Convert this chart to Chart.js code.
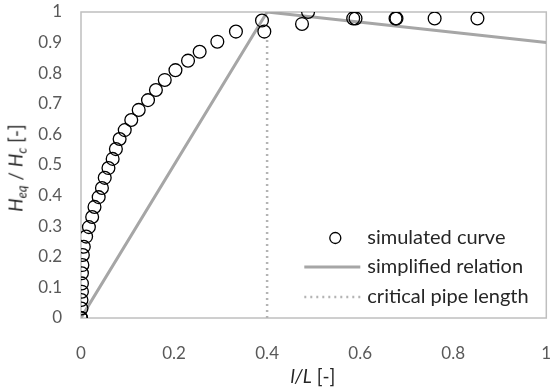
<!DOCTYPE html>
<html>
<head>
<meta charset="utf-8">
<script src="https://cdn.jsdelivr.net/npm/chart.js@4/dist/chart.umd.min.js"></script>
<style>
    html, body { margin: 0; padding: 0; background: #fff; overflow: hidden; }
    #wrap { position: relative; width: 554px; height: 388px; }
    .axis-title {
        position: absolute;
        font-family: Lato, sans-serif;
        font-size: 19px;
        color: #262626;
        white-space: nowrap;
        line-height: 1;
    }
    .axis-title sub { font-size: 13px; vertical-align: -4px; }
    #ytitle { left: 17px; top: 168px; transform: translate(-50%, -50%) rotate(-90deg); }
    #xtitle { left: 313px; top: 375px; transform: translate(-50%, -50%); }
</style>
</head>
<body>
<div id="wrap">
    <canvas id="chart" width="554" height="388"></canvas>
    <div id="ytitle" class="axis-title"><i>H</i><sub><i>eq</i></sub> / <i>H</i><sub><i>c</i></sub> [-]</div>
    <div id="xtitle" class="axis-title"><i>l/L</i> [-]</div>
</div>
<script>
// Curva simulada
const simX = [0, 0, 0, 0.001, 0.001, 0.002, 0.002, 0.002, 0.003, 0.004, 0.006, 0.011, 0.017, 0.024,
    0.029, 0.038, 0.045, 0.051, 0.059, 0.068, 0.075, 0.083, 0.094, 0.108, 0.124, 0.144, 0.161,
    0.180, 0.203, 0.230, 0.255, 0.293, 0.333, 0.389, 0.394, 0.475, 0.488, 0.585, 0.590, 0.676,
    0.678, 0.760, 0.852];
const simY = [0, 0, 0, 0.031, 0.059, 0.086, 0.113, 0.146, 0.173, 0.206, 0.233, 0.266, 0.297, 0.330,
    0.363, 0.395, 0.425, 0.458, 0.490, 0.520, 0.552, 0.585, 0.614, 0.647, 0.680, 0.712, 0.745,
    0.778, 0.810, 0.841, 0.870, 0.903, 0.936, 0.972, 0.936, 0.961, 1.0, 0.979, 0.979, 0.979,
    0.979, 0.979, 0.979];

// Relación simplificada
const relX = [0, 0.4, 1];
const relY = [0, 1, 0.9];

// Longitud crítica de tubería
const critX = [0.4, 0.4];
const critY = [0, 0.92];

// Marcas de los ejes
const xTicks = [0, 0.2, 0.4, 0.6, 0.8, 1];
const yTicks = [0, 0.1, 0.2, 0.3, 0.4, 0.5, 0.6, 0.7, 0.8, 0.9, 1];

const seriesNames = ['simulated curve', 'simplified relation', 'critical pipe length'];

const toPoints = (xs, ys) => xs.map((x, i) => ({ x: x, y: ys[i] }));

// Marco del área del gráfico y leyenda interior
const framePlugin = {
    id: 'frame',
    beforeDatasetsDraw(chart) {
        const { ctx, chartArea: a } = chart;
        ctx.save();
        ctx.strokeStyle = '#bfbfbf';
        ctx.lineWidth = 1.5;
        ctx.strokeRect(a.left, a.top, a.right - a.left, a.bottom - a.top);
        ctx.restore();
    },
    afterDraw(chart) {
        const { ctx, chartArea: a } = chart;
        const textX = a.right - 179;
        const rows = [a.bottom - 80, a.bottom - 51, a.bottom - 21];
        ctx.save();
        // marcador circular
        ctx.beginPath();
        ctx.arc(a.right - 211, rows[0], 5.5, 0, Math.PI * 2);
        ctx.strokeStyle = '#000';
        ctx.lineWidth = 1.3;
        ctx.stroke();
        // línea continua
        ctx.beginPath();
        ctx.moveTo(a.right - 242, rows[1]);
        ctx.lineTo(a.right - 186, rows[1]);
        ctx.strokeStyle = '#a6a6a6';
        ctx.lineWidth = 3;
        ctx.stroke();
        // línea punteada
        ctx.beginPath();
        ctx.setLineDash([2, 4]);
        ctx.moveTo(a.right - 242, rows[2]);
        ctx.lineTo(a.right - 186, rows[2]);
        ctx.strokeStyle = '#b4b4b4';
        ctx.lineWidth = 2.5;
        ctx.stroke();
        ctx.setLineDash([]);
        // textos
        ctx.fillStyle = '#262626';
        ctx.font = '20px Lato, sans-serif';
        ctx.textBaseline = 'middle';
        ctx.textAlign = 'left';
        seriesNames.forEach((name, i) => ctx.fillText(name, textX, rows[i]));
        ctx.restore();
    }
};

const ctx = document.getElementById('chart').getContext('2d');
new Chart(ctx, {
    type: 'scatter',
    data: {
        datasets: [
            {
                label: seriesNames[0],
                data: toPoints(simX, simY),
                pointStyle: 'circle',
                pointRadius: 6.4,
                pointHoverRadius: 6.4,
                borderColor: '#000000',
                backgroundColor: 'rgba(0,0,0,0)',
                pointBorderWidth: 1.3,
                showLine: false
            },
            {
                label: seriesNames[1],
                data: toPoints(relX, relY),
                showLine: true,
                borderColor: '#a6a6a6',
                borderWidth: 3,
                pointRadius: 0,
                fill: false
            },
            {
                label: seriesNames[2],
                data: toPoints(critX, critY),
                showLine: true,
                borderColor: '#b4b4b4',
                borderWidth: 2.5,
                borderDash: [2, 4],
                pointRadius: 0,
                fill: false
            }
        ]
    },
    options: {
        responsive: false,
        animation: false,
        layout: { padding: { left: 0, right: 5, top: 12, bottom: 0 } },
        scales: {
            x: {
                type: 'linear',
                min: 0,
                max: 1,
                // marcas invisibles: sólo sirven para separar las etiquetas del eje
                grid: { display: true, drawOnChartArea: false, drawTicks: true, tickLength: 25, color: 'rgba(0,0,0,0)' },
                border: { display: false },
                afterBuildTicks: scale => { scale.ticks = xTicks.map(v => ({ value: v })); },
                afterFit: scale => { scale.height = 70; },
                ticks: {
                    padding: 0,
                    color: '#595959',
                    font: { family: 'Lato', size: 17 },
                    callback: v => String(v)
                }
            },
            y: {
                type: 'linear',
                min: 0,
                max: 1,
                grid: { display: true, drawOnChartArea: false, drawTicks: true, tickLength: 19, color: 'rgba(0,0,0,0)' },
                border: { display: false },
                afterBuildTicks: scale => { scale.ticks = yTicks.map(v => ({ value: v })); },
                afterFit: scale => { scale.width = 81; },
                ticks: {
                    padding: 0,
                    color: '#595959',
                    font: { family: 'Lato', size: 17 },
                    callback: v => String(v)
                }
            }
        },
        plugins: {
            legend: { display: false },
            tooltip: { enabled: false }
        }
    },
    plugins: [framePlugin]
});
</script>
</body>
</html>
